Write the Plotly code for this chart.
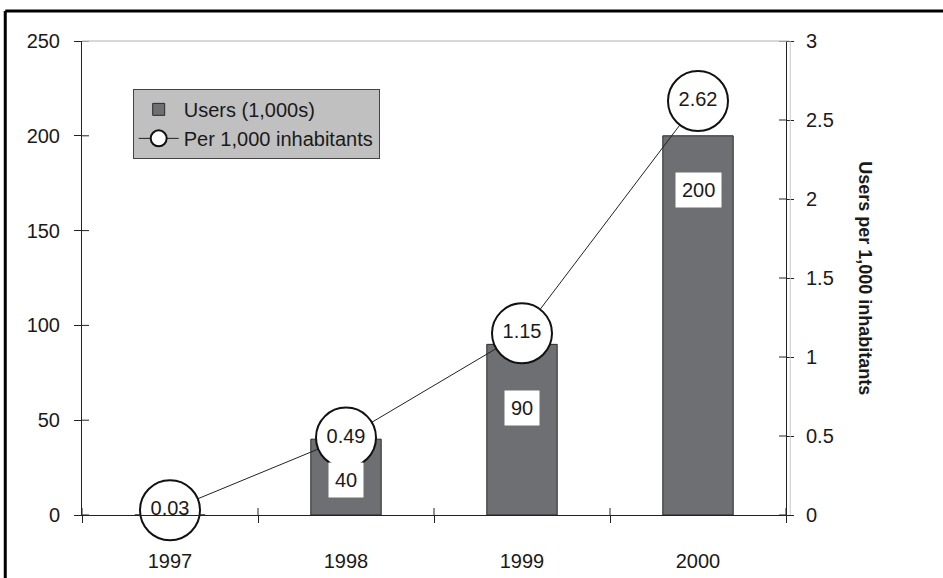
import plotly.graph_objects as go

years = ["1997", "1998", "1999", "2000"]
users_thousands = [0, 40, 90, 200]
per_1000 = [0.03, 0.49, 1.15, 2.62]
left_ticks = [0, 50, 100, 150, 200, 250]
right_ticks = [0, 0.5, 1, 1.5, 2, 2.5, 3]

FONT = "Liberation Sans, Arial, sans-serif"
TXT = "#1a1a1a"
FS = 20

fig = go.Figure()
fig.add_trace(go.Bar(
    x=years, y=users_thousands, name="Users (1,000s)",
    marker=dict(color="#6e6f73", line=dict(color="#2a2a2a", width=1)),
    width=0.4, yaxis="y",
))
fig.add_trace(go.Scatter(
    x=years, y=per_1000, name="Per 1,000 inhabitants", yaxis="y2",
    mode="lines+markers+text",
    text=[f"{v:.2f}" for v in per_1000], textposition="middle center",
    textfont=dict(size=FS, color=TXT, family=FONT),
    line=dict(color="#222222", width=1),
    marker=dict(size=60, color="white", line=dict(color="#111111", width=2)),
    cliponaxis=False,
))

# white-box value labels inside bars
label_shift = {"1998": -41, "1999": -64, "2000": -54}
annotations = []
for i, (yr, v) in enumerate(zip(years, users_thousands)):
    if yr in label_shift:
        annotations.append(dict(
            x=i, y=v, xref="x", yref="y", text=str(v), showarrow=False,
            yshift=label_shift[yr], bgcolor="white", borderpad=6,
            font=dict(size=FS, color=TXT, family=FONT),
        ))
annotations.append(dict(
    x=1.112, y=0.5, xref="paper", yref="paper", xanchor="center",
    text="<b>Users per 1,000 inhabitants</b>",
    textangle=90, showarrow=False, font=dict(size=18, color=TXT, family=FONT),
))

shapes = []
# inside halves of crossing ticks
for v in left_ticks:
    shapes.append(dict(type="line", xref="paper", xsizemode="pixel", xanchor=0, x0=0, x1=7,
                       yref="y", y0=v, y1=v, line=dict(color="#222", width=1)))
for v in right_ticks:
    shapes.append(dict(type="line", xref="paper", xsizemode="pixel", xanchor=1, x0=0, x1=-7,
                       yref="y2", y0=v, y1=v, line=dict(color="#222", width=1)))
for i in range(len(years) + 1):
    shapes.append(dict(type="line", yref="paper", ysizemode="pixel", yanchor=0, y0=0, y1=7,
                       xref="x", x0=i - 0.5, x1=i - 0.5, line=dict(color="#222", width=1)))
# light grey top border of plot area
shapes.append(dict(type="line", xref="paper", yref="paper", x0=0, x1=1.005, y0=1, y1=1,
                   line=dict(color="#b0b0b0", width=1)))
shapes.append(dict(type="line", xref="paper", yref="paper", x0=1.006, x1=1.006, y0=0, y1=1,
                   line=dict(color="#c8c8c8", width=1)))
# outer black frame (top and left)
shapes.append(dict(type="line", xref="paper", yref="paper", x0=-0.109, x1=1.4, y0=1.0633, y1=1.0633,
                   line=dict(color="black", width=3)))
shapes.append(dict(type="line", xref="paper", yref="paper", x0=-0.109, x1=-0.109, y0=1.0633, y1=-0.3,
                   line=dict(color="black", width=3)))

fig.update_layout(
    width=943, height=578,
    margin=dict(l=82, r=157, t=41, b=63, autoexpand=False),
    paper_bgcolor="white", plot_bgcolor="white",
    font=dict(family=FONT, size=FS, color=TXT),
    showlegend=True,
    legend=dict(x=0.072, y=0.899, xanchor="left", yanchor="top",
                bgcolor="#c0c0c0", bordercolor="#444444", borderwidth=1,
                font=dict(size=FS, color=TXT, family=FONT), tracegroupgap=0,
                itemwidth=40),
    xaxis=dict(type="category", range=[-0.5, len(years) - 0.5], tickson="boundaries",
               ticks="outside", ticklen=7, tickcolor="#222", showline=True, linecolor="#222",
               linewidth=1, showgrid=False, ticklabelstandoff=28, zeroline=False,
               automargin=False),
    yaxis=dict(range=[0, 250], tickvals=left_ticks, ticks="outside", ticklen=7, tickcolor="#222",
               showline=True, linecolor="#222", showgrid=False, zeroline=False,
               ticklabelstandoff=10, automargin=False),
    yaxis2=dict(range=[0, 3], tickvals=right_ticks, ticktext=[f"{v:g}" for v in right_ticks],
                overlaying="y", side="right", ticks="outside", ticklen=7, tickcolor="#222",
                showline=True, linecolor="#222", showgrid=False, zeroline=False,
                ticklabelstandoff=8, automargin=False),
    annotations=annotations, shapes=shapes,
    bargap=0.6,
)

fig.write_html("out.html", config={"displayModeBar": False},
               post_script="document.body.style.margin='0';document.body.style.overflow='hidden';")
